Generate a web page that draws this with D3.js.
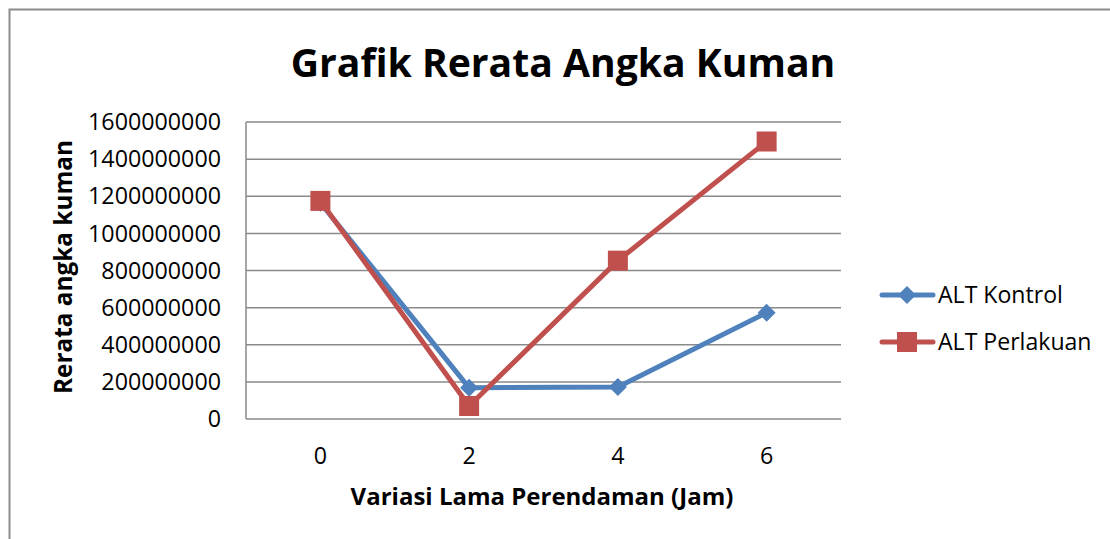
<!DOCTYPE html>
<html>
<head>
<meta charset="utf-8">
<script src="https://cdn.jsdelivr.net/npm/d3@7"></script>
<style>
  body { margin: 0; background: #fff; }
  svg { display: block; font-family: "Open Sans", "DejaVu Sans", sans-serif; }
</style>
</head>
<body>
<svg id="chart" width="1110" height="539"></svg>
<script>
// data
var categories = ["0", "2", "4", "6"];
var kontrol = [1165000000, 168000000, 172000000, 573000000];
var perlakuan = [1175000000, 70000000, 853000000, 1495000000];
var yTicks = [0, 200000000, 400000000, 600000000, 800000000, 1000000000, 1200000000, 1400000000, 1600000000];

var seriesNames = ["ALT Kontrol", "ALT Perlakuan"];
var colors = ["#4F81BD", "#C0504D"];

var svg = d3.select("#chart");

// outer chart border (runs past the picture on right and bottom)
svg.append("rect")
  .attr("x", 9.5).attr("y", 9.5)
  .attr("width", 1120).attr("height", 560)
  .attr("fill", "none").attr("stroke", "#8c8c8c").attr("stroke-width", 2);

var plot = {left: 246, top: 122, right: 841, bottom: 419};

var x = d3.scaleBand().domain(categories).range([plot.left, plot.right]);
var y = d3.scaleLinear().domain([0, 1600000000]).range([plot.bottom, plot.top]);

// fit text to a target width by adjusting font size, returns size
function fitText(sel, target) {
  var fs = +sel.attr("font-size");
  var w = sel.node().getComputedTextLength();
  sel.attr("font-size", fs * target / w);
  return fs * target / w;
}

// measure font size for tick labels
var probe = svg.append("text").attr("font-size", 20).text("1600000000");
var tickSize = fitText(probe, 133);
probe.remove();

// gridlines
svg.append("g").selectAll("line").data(yTicks).join("line")
  .attr("x1", plot.left).attr("x2", plot.right)
  .attr("y1", function(d) { return y(d); }).attr("y2", function(d) { return y(d); })
  .attr("stroke", "#8a8a8a").attr("stroke-width", 1.5);

// left axis line
svg.append("line")
  .attr("x1", plot.left).attr("x2", plot.left)
  .attr("y1", plot.top).attr("y2", plot.bottom)
  .attr("stroke", "#8a8a8a").attr("stroke-width", 1.5);

// y tick labels
svg.append("g").selectAll("text").data(yTicks).join("text")
  .attr("x", 221).attr("y", function(d) { return y(d); })
  .attr("dy", "0.35em").attr("text-anchor", "end")
  .attr("font-size", tickSize).attr("fill", "#000")
  .text(function(d) { return d; });

// x tick labels
svg.append("g").selectAll("text").data(categories).join("text")
  .attr("x", function(d) { return x(d) + x.bandwidth() / 2; })
  .attr("y", 456).attr("dy", "0.35em").attr("text-anchor", "middle")
  .attr("font-size", tickSize).attr("fill", "#000")
  .text(function(d) { return d; });

// title
var title = svg.append("text")
  .attr("x", 563).attr("y", 77).attr("text-anchor", "middle")
  .attr("font-size", 40).attr("font-weight", "bold").attr("fill", "#000")
  .text("Grafik Rerata Angka Kuman");
fitText(title, 545);

// x axis title
var xt = svg.append("text")
  .attr("x", 542).attr("y", 505).attr("text-anchor", "middle")
  .attr("font-size", 21).attr("font-weight", "bold").attr("fill", "#000")
  .text("Variasi Lama Perendaman (Jam)");
fitText(xt, 383);

// y axis title
var yt = svg.append("text")
  .attr("transform", "translate(72,267) rotate(-90)")
  .attr("text-anchor", "middle")
  .attr("font-size", 21).attr("font-weight", "bold").attr("fill", "#000")
  .text("Rerata angka kuman");
fitText(yt, 254);

var line = d3.line()
  .x(function(d, i) { return x(categories[i]) + x.bandwidth() / 2; })
  .y(function(d) { return y(d); });

var allSeries = [kontrol, perlakuan];

function drawMarker(g, idx, cx, cy) {
  if (idx === 0) {
    g.append("path")
      .attr("d", "M" + cx + "," + (cy - 9) + "L" + (cx + 9) + "," + cy + "L" + cx + "," + (cy + 9) + "L" + (cx - 9) + "," + cy + "Z")
      .attr("fill", colors[0]);
  } else {
    g.append("rect")
      .attr("x", cx - 10).attr("y", cy - 10)
      .attr("width", 20).attr("height", 20)
      .attr("fill", colors[1]);
  }
}

allSeries.forEach(function(vals, idx) {
  var g = svg.append("g");
  g.append("path").attr("d", line(vals))
    .attr("fill", "none").attr("stroke", colors[idx])
    .attr("stroke-width", 5).attr("stroke-linejoin", "round").attr("stroke-linecap", "round");
  vals.forEach(function(v, i) {
    drawMarker(g, idx, x(categories[i]) + x.bandwidth() / 2, y(v));
  });
});

// legend
var legendSize = null;
seriesNames.forEach(function(name, idx) {
  var ly = 295 + idx * 47;
  var g = svg.append("g");
  g.append("line").attr("x1", 882).attr("x2", 933).attr("y1", ly).attr("y2", ly)
    .attr("stroke", colors[idx]).attr("stroke-width", 5).attr("stroke-linecap", "round");
  drawMarker(g, idx, 907, ly);
  var t = g.append("text").attr("x", 938).attr("y", ly).attr("dy", "0.35em")
    .attr("font-size", legendSize || 20).attr("fill", "#000").text(name);
  if (!legendSize) legendSize = fitText(t, 125);
});
</script>
</body>
</html>
